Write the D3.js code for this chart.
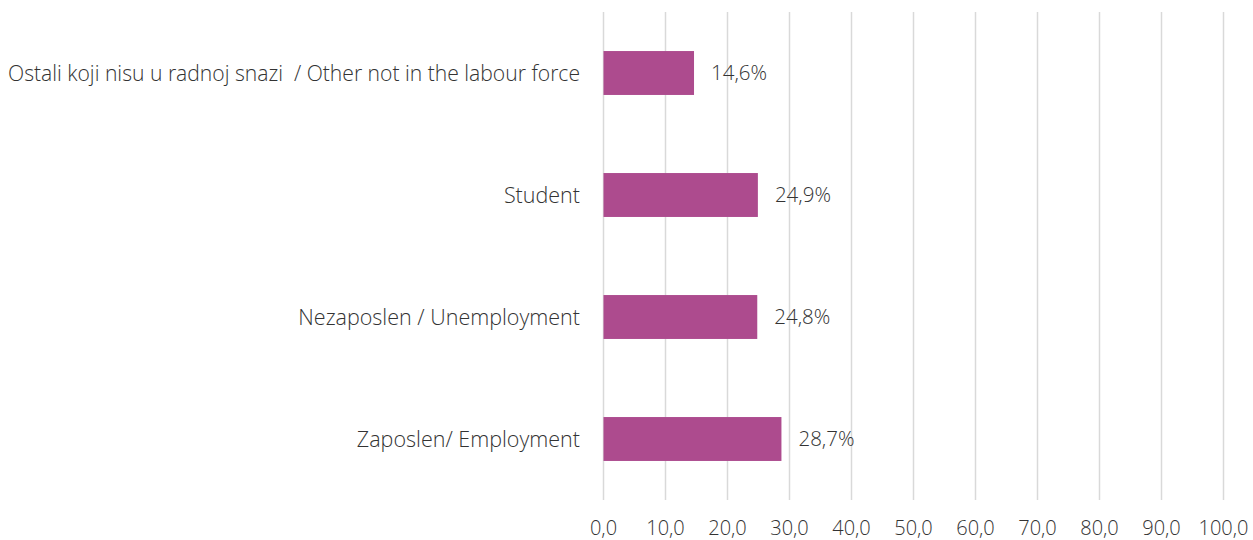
<!DOCTYPE html>
<html><head><meta charset="utf-8">
<script src="https://cdn.jsdelivr.net/npm/d3@7"></script>
<style>
body{margin:0;background:#fff;}
text{font-family:"Open Sans","Noto Sans",sans-serif;font-weight:300;fill:#333;}
</style></head>
<body><svg id="c" width="1253" height="540"></svg>
<script>
const categories = ["Ostali koji nisu u radnoj snazi  / Other not in the labour force","Student","Nezaposlen / Unemployment","Zaposlen/ Employment"];
const values = [14.6, 24.9, 24.8, 28.7];
const valueLabels = ["14,6%","24,9%","24,8%","28,7%"];
const ticks = [0,10,20,30,40,50,60,70,80,90,100];
const tickLabels = ["0,0","10,0","20,0","30,0","40,0","50,0","60,0","70,0","80,0","90,0","100,0"];

const svg = d3.select("#c");
const x = d3.scaleLinear().domain([0,100]).range([603.5,1223.5]);
const y = d3.scaleBand().domain(categories).range([12,500]).paddingInner(0.64).paddingOuter(0.32);

svg.append("g").selectAll("line").data(ticks).join("line")
  .attr("x1",d=>x(d)).attr("x2",d=>x(d)).attr("y1",12).attr("y2",500)
  .attr("stroke","#d9d9d9").attr("stroke-width",1.5);

svg.append("g").selectAll("rect").data(values).join("rect")
  .attr("x",x(0)).attr("y",(d,i)=>y(categories[i]))
  .attr("width",d=>x(d)-x(0)).attr("height",y.bandwidth())
  .attr("fill","#ad4b8e");

svg.append("g").selectAll("text").data(values).join("text")
  .attr("x",d=>x(d)+17).attr("y",(d,i)=>y(categories[i])+y.bandwidth()/2)
  .attr("dy","0.35em").attr("font-size",20.5).text((d,i)=>valueLabels[i]);

const maxW = 572;
svg.append("g").selectAll("text").data(categories).join("text")
  .attr("x",580).attr("y",d=>y(d)+y.bandwidth()/2)
  .attr("dy","0.35em").attr("text-anchor","end").attr("font-size",21.5)
  .attr("xml:space","preserve").text(d=>d)
  .each(function(){
    const w = this.getComputedTextLength();
    if (w > maxW) d3.select(this).attr("textLength",maxW).attr("lengthAdjust","spacingAndGlyphs");
  });

svg.append("g").selectAll("text").data(ticks).join("text")
  .attr("x",d=>x(d)).attr("y",535).attr("text-anchor","middle").attr("font-size",20)
  .text((d,i)=>tickLabels[i]);
</script></body></html>
